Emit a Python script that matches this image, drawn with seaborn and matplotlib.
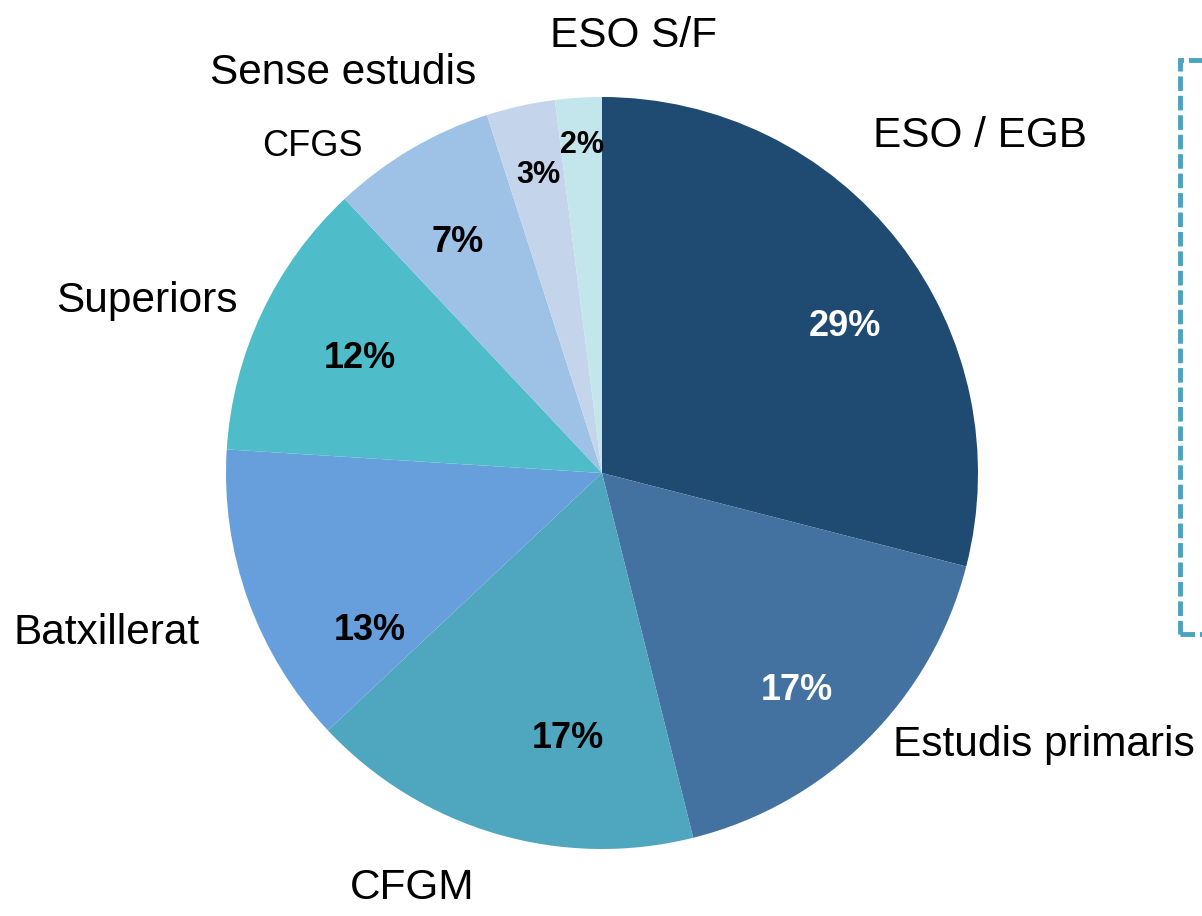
import matplotlib
matplotlib.use("Agg")
import matplotlib.pyplot as plt
import seaborn as sns
from matplotlib.patches import Rectangle

categories = ["ESO / EGB", "Estudis primaris", "CFGM", "Batxillerat",
              "Superiors", "CFGS", "Sense estudis", "ESO S/F"]
shares = [29.0, 17.1, 16.9, 13.0, 12.0, 7.05, 2.95, 2.0]
colors = ["#1F4A72", "#4472A0", "#4FA6BF", "#669FDC",
          "#4FBDC9", "#9EC1E6", "#C4D5EB", "#C3E5EC"]

sns.set_theme(style="white")
plt.rcParams["font.family"] = ["Liberation Sans", "DejaVu Sans"]

W, H = 1202, 916
fig = plt.figure(figsize=(W / 100, H / 100), dpi=100)
ax = fig.add_axes([0, 0, 1, 1])

cx, cy, R = 602, H - 473, 376
wedges, _ = ax.pie(shares, colors=colors, startangle=90, counterclock=False,
                   center=(cx, cy), radius=R, wedgeprops=dict(linewidth=0))
ax.set_xlim(0, W)
ax.set_ylim(0, H)
ax.set_aspect("equal")
ax.axis("off")

# layout: label centres in pixel coordinates (from top-left)
cat_pos = [(980, 136), (1044, 745), (412, 888), (107, 633),
           (147, 301), (312, 146), (343, 73), (633, 36)]
cat_size = [30.5, 30.5, 30.5, 30.5, 30.5, 26, 30.5, 30.5]
pct_pos = [(845, 326), (797, 691), (568, 738), (370, 630),
           (360, 358), (458, 243), (538, 175), (582, 145)]
pct_size = [26, 26, 26, 26, 26, 26, 22, 22]
pct_color = ["white", "white", "black", "black", "black", "black", "black", "black"]

for cat, v, (lx, ly), cs, (px, py), ps, pc in zip(categories, shares, cat_pos, cat_size,
                                                  pct_pos, pct_size, pct_color):
    ax.text(lx, H - ly, cat, ha="center", va="center", fontsize=cs, color="black")
    ax.text(px, H - py, f"{v:.0f}%", ha="center", va="center", fontsize=ps,
            fontweight="bold", color=pc)

box = Rectangle((1180, H - 634), 100, 574, fill=False, edgecolor="#4BA3BE",
                linewidth=3.5, linestyle=(0, (3, 1)))
ax.add_patch(box)

fig.savefig("out.png", dpi=100)
